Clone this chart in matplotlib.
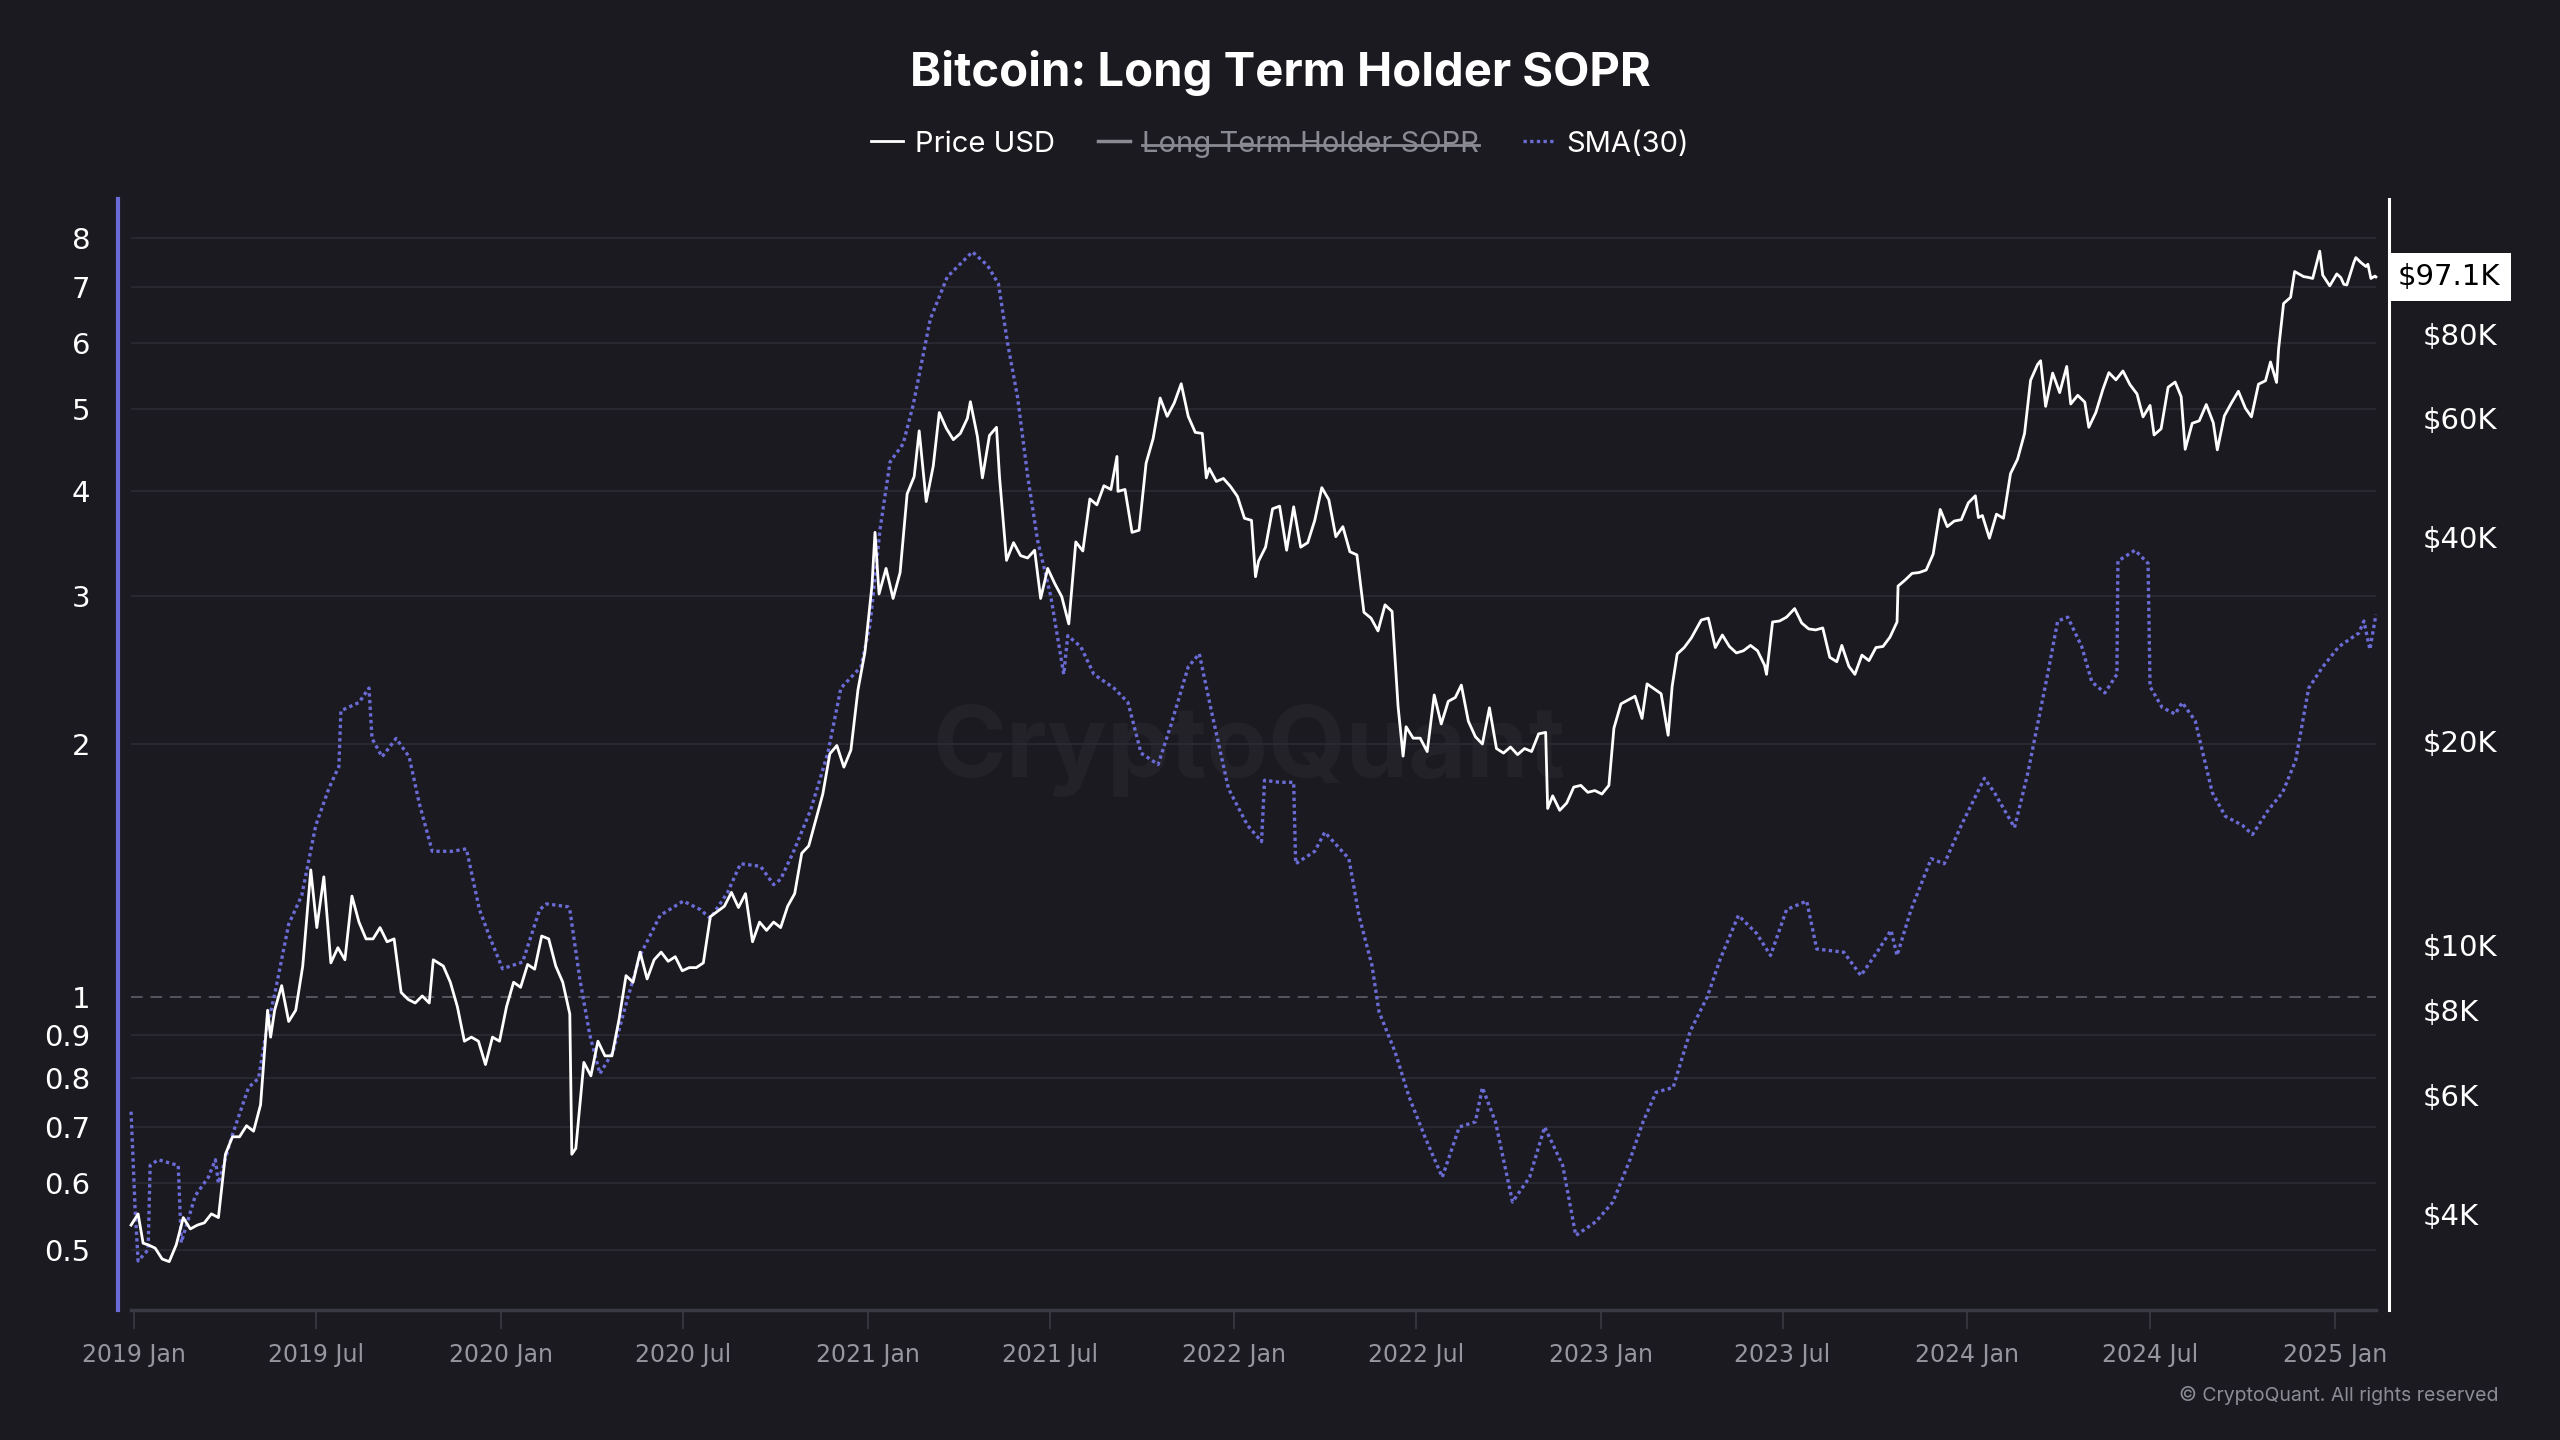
import pandas as pd
import matplotlib
matplotlib.use("Agg")
import matplotlib.pyplot as plt
import matplotlib.dates as mdates
from matplotlib.lines import Line2D
from matplotlib.transforms import IdentityTransform

#%% Data
# Bitcoin price (USD), roughly weekly
price_points = [
    ("2018-12-29", 3850), ("2019-01-05", 4000), ("2019-01-10", 3620), ("2019-01-15", 3600), ("2019-01-22", 3560),
    ("2019-01-29", 3430), ("2019-02-05", 3400), ("2019-02-12", 3600), ("2019-02-19", 3950), ("2019-02-26", 3800),
    ("2019-03-05", 3850), ("2019-03-12", 3880), ("2019-03-19", 4000), ("2019-03-26", 3950), ("2019-04-02", 4900),
    ("2019-04-09", 5200), ("2019-04-16", 5200), ("2019-04-23", 5400), ("2019-04-30", 5300), ("2019-05-07", 5800),
    ("2019-05-14", 8000), ("2019-05-17", 7300), ("2019-05-21", 8000), ("2019-05-28", 8700), ("2019-06-04", 7700),
    ("2019-06-11", 8000), ("2019-06-18", 9300), ("2019-06-26", 12900), ("2019-07-02", 10600), ("2019-07-09", 12600),
    ("2019-07-16", 9400), ("2019-07-23", 9900), ("2019-07-30", 9500), ("2019-08-06", 11800), ("2019-08-13", 10800),
    ("2019-08-20", 10200), ("2019-08-27", 10200), ("2019-09-03", 10600), ("2019-09-10", 10100), ("2019-09-17", 10200),
    ("2019-09-24", 8500), ("2019-10-01", 8300), ("2019-10-08", 8200), ("2019-10-15", 8400), ("2019-10-22", 8200),
    ("2019-10-26", 9500), ("2019-11-05", 9300), ("2019-11-12", 8800), ("2019-11-19", 8100), ("2019-11-26", 7200),
    ("2019-12-03", 7300), ("2019-12-10", 7200), ("2019-12-17", 6650), ("2019-12-24", 7300), ("2019-12-31", 7200),
    ("2020-01-07", 8100), ("2020-01-14", 8800), ("2020-01-21", 8650), ("2020-01-28", 9350), ("2020-02-04", 9200),
    ("2020-02-11", 10300), ("2020-02-18", 10200), ("2020-02-25", 9300), ("2020-03-03", 8800), ("2020-03-10", 7900),
    ("2020-03-12", 4900), ("2020-03-16", 5000), ("2020-03-24", 6700), ("2020-03-31", 6400), ("2020-04-07", 7200),
    ("2020-04-14", 6850), ("2020-04-21", 6850), ("2020-04-28", 7750), ("2020-05-05", 9000), ("2020-05-12", 8800),
    ("2020-05-19", 9750), ("2020-05-26", 8900), ("2020-06-02", 9500), ("2020-06-09", 9750), ("2020-06-16", 9450),
    ("2020-06-23", 9600), ("2020-06-30", 9150), ("2020-07-07", 9250), ("2020-07-14", 9250), ("2020-07-21", 9400),
    ("2020-07-28", 11000), ("2020-08-04", 11200), ("2020-08-11", 11400), ("2020-08-18", 11950), ("2020-08-25", 11350),
    ("2020-09-01", 11900), ("2020-09-08", 10100), ("2020-09-15", 10800), ("2020-09-22", 10500), ("2020-09-29", 10800),
    ("2020-10-06", 10600), ("2020-10-13", 11400), ("2020-10-20", 11900), ("2020-10-27", 13650), ("2020-11-03", 14000),
    ("2020-11-10", 15300), ("2020-11-17", 16700), ("2020-11-24", 19150), ("2020-12-01", 19700), ("2020-12-08", 18300),
    ("2020-12-15", 19400), ("2020-12-22", 23800), ("2020-12-29", 27100), ("2021-01-05", 34000), ("2021-01-08", 40700),
    ("2021-01-12", 33000), ("2021-01-19", 36000), ("2021-01-26", 32500), ("2021-02-02", 35500), ("2021-02-09", 46400),
    ("2021-02-16", 49200), ("2021-02-21", 57500), ("2021-02-28", 45200), ("2021-03-07", 51000), ("2021-03-13", 61200),
    ("2021-03-20", 58000), ("2021-03-27", 55800), ("2021-04-03", 57000), ("2021-04-10", 60000), ("2021-04-13", 63500),
    ("2021-04-20", 56400), ("2021-04-25", 49000), ("2021-05-02", 56600), ("2021-05-09", 58200), ("2021-05-12", 49200),
    ("2021-05-19", 37000), ("2021-05-26", 39300), ("2021-06-02", 37600), ("2021-06-09", 37300), ("2021-06-16", 38300),
    ("2021-06-22", 32500), ("2021-06-29", 36000), ("2021-07-06", 34200), ("2021-07-13", 32700), ("2021-07-20", 29800),
    ("2021-07-27", 39400), ("2021-08-03", 38200), ("2021-08-10", 45600), ("2021-08-17", 44700), ("2021-08-24", 47700),
    ("2021-08-31", 47100), ("2021-09-06", 52700), ("2021-09-07", 46800), ("2021-09-14", 47100), ("2021-09-21", 40700),
    ("2021-09-28", 41000), ("2021-10-05", 51500), ("2021-10-12", 56000), ("2021-10-19", 64300), ("2021-10-26", 60400),
    ("2021-11-02", 63200), ("2021-11-09", 67500), ("2021-11-16", 60400), ("2021-11-23", 57200), ("2021-11-30", 57000),
    ("2021-12-04", 49000), ("2021-12-07", 50600), ("2021-12-14", 48400), ("2021-12-21", 48900), ("2021-12-28", 47600),
    ("2022-01-04", 46000), ("2022-01-11", 42700), ("2022-01-18", 42400), ("2022-01-22", 35000), ("2022-01-25", 36900),
    ("2022-02-01", 38700), ("2022-02-08", 44100), ("2022-02-15", 44500), ("2022-02-22", 38300), ("2022-03-01", 44400),
    ("2022-03-08", 38700), ("2022-03-15", 39300), ("2022-03-22", 42400), ("2022-03-29", 47400), ("2022-04-05", 45500),
    ("2022-04-12", 40100), ("2022-04-19", 41500), ("2022-04-26", 38100), ("2022-05-03", 37700), ("2022-05-10", 31000),
    ("2022-05-17", 30400), ("2022-05-24", 29100), ("2022-05-31", 31800), ("2022-06-07", 31100), ("2022-06-13", 22500),
    ("2022-06-18", 19000), ("2022-06-21", 21000), ("2022-06-28", 20200), ("2022-07-05", 20200), ("2022-07-12", 19300),
    ("2022-07-19", 23400), ("2022-07-26", 21200), ("2022-08-02", 22900), ("2022-08-09", 23200), ("2022-08-15", 24200),
    ("2022-08-22", 21400), ("2022-08-29", 20300), ("2022-09-05", 19800), ("2022-09-12", 22400), ("2022-09-19", 19500),
    ("2022-09-26", 19200), ("2022-10-03", 19600), ("2022-10-10", 19100), ("2022-10-17", 19500), ("2022-10-24", 19300),
    ("2022-10-31", 20500), ("2022-11-07", 20600), ("2022-11-09", 15900), ("2022-11-14", 16600), ("2022-11-21", 15800),
    ("2022-11-28", 16200), ("2022-12-05", 17100), ("2022-12-12", 17200), ("2022-12-19", 16800), ("2022-12-26", 16900),
    ("2023-01-02", 16700), ("2023-01-09", 17200), ("2023-01-14", 20900), ("2023-01-21", 22700), ("2023-01-28", 23000),
    ("2023-02-04", 23300), ("2023-02-11", 21600), ("2023-02-16", 24300), ("2023-02-23", 23900), ("2023-03-02", 23500),
    ("2023-03-09", 20400), ("2023-03-13", 24100), ("2023-03-18", 26900), ("2023-03-25", 27500), ("2023-04-01", 28400),
    ("2023-04-11", 30200), ("2023-04-18", 30400), ("2023-04-25", 27500), ("2023-05-02", 28700), ("2023-05-09", 27600),
    ("2023-05-16", 27000), ("2023-05-23", 27200), ("2023-05-30", 27700), ("2023-06-06", 27200), ("2023-06-13", 25900),
    ("2023-06-15", 25100), ("2023-06-21", 30000), ("2023-06-28", 30100), ("2023-07-05", 30500), ("2023-07-13", 31400),
    ("2023-07-20", 29900), ("2023-07-27", 29300), ("2023-08-03", 29200), ("2023-08-10", 29400), ("2023-08-17", 26600),
    ("2023-08-24", 26200), ("2023-08-29", 27700), ("2023-09-05", 25800), ("2023-09-11", 25100), ("2023-09-18", 26800),
    ("2023-09-25", 26300), ("2023-10-02", 27500), ("2023-10-09", 27600), ("2023-10-16", 28500), ("2023-10-23", 30000),
    ("2023-10-24", 33900), ("2023-10-31", 34600), ("2023-11-07", 35400), ("2023-11-14", 35500), ("2023-11-21", 35800),
    ("2023-11-28", 37800), ("2023-12-05", 44000), ("2023-12-12", 41500), ("2023-12-19", 42300), ("2023-12-26", 42500),
    ("2024-01-02", 45000), ("2024-01-09", 46100), ("2024-01-12", 42800), ("2024-01-16", 43100), ("2024-01-23", 39900),
    ("2024-01-30", 43300), ("2024-02-06", 42700), ("2024-02-13", 49700), ("2024-02-20", 52200), ("2024-02-27", 57000),
    ("2024-03-04", 68300), ("2024-03-11", 72100), ("2024-03-14", 73000), ("2024-03-19", 62500), ("2024-03-26", 70000),
    ("2024-04-02", 65500), ("2024-04-09", 71600), ("2024-04-13", 63000), ("2024-04-20", 64900), ("2024-04-27", 63400),
    ("2024-05-01", 58200), ("2024-05-08", 61200), ("2024-05-15", 66200), ("2024-05-21", 70100), ("2024-05-28", 68400),
    ("2024-06-04", 70500), ("2024-06-11", 67300), ("2024-06-18", 65200), ("2024-06-24", 60300), ("2024-07-01", 62700),
    ("2024-07-05", 56700), ("2024-07-12", 57900), ("2024-07-19", 66700), ("2024-07-26", 67900), ("2024-08-01", 64600),
    ("2024-08-05", 54000), ("2024-08-12", 59000), ("2024-08-19", 59500), ("2024-08-26", 62900), ("2024-09-02", 59100),
    ("2024-09-06", 53900), ("2024-09-13", 60500), ("2024-09-20", 63200), ("2024-09-27", 65800), ("2024-10-04", 62100),
    ("2024-10-10", 60300), ("2024-10-17", 67400), ("2024-10-24", 68200), ("2024-10-29", 72700), ("2024-11-04", 67800),
    ("2024-11-06", 75900), ("2024-11-11", 88700), ("2024-11-18", 90600), ("2024-11-22", 98900), ("2024-12-01", 97200),
    ("2024-12-05", 97000), ("2024-12-10", 96600), ("2024-12-17", 106000), ("2024-12-20", 97700), ("2024-12-27", 94200),
    ("2025-01-03", 98100), ("2025-01-07", 96900), ("2025-01-10", 94700), ("2025-01-13", 94500), ("2025-01-20", 102000),
    ("2025-01-22", 103700), ("2025-01-27", 102000), ("2025-02-01", 100600), ("2025-02-03", 101400), ("2025-02-06", 96600),
    ("2025-02-10", 97400), ("2025-02-11", 97100),
]

# Long Term Holder SOPR, 30-day SMA
sma_points = [
    ("2018-12-29", 0.73), ("2019-01-02", 0.56), ("2019-01-05", 0.485), ("2019-01-15", 0.50), ("2019-01-17", 0.63),
    ("2019-01-25", 0.64), ("2019-02-14", 0.63), ("2019-02-17", 0.51), ("2019-03-03", 0.58), ("2019-03-16", 0.61),
    ("2019-03-23", 0.64), ("2019-03-26", 0.60), ("2019-04-08", 0.68), ("2019-04-25", 0.78), ("2019-05-05", 0.80),
    ("2019-05-12", 0.90), ("2019-05-22", 1.02), ("2019-06-04", 1.22), ("2019-06-17", 1.32), ("2019-07-01", 1.60),
    ("2019-07-14", 1.77), ("2019-07-24", 1.88), ("2019-07-26", 2.19), ("2019-08-13", 2.24), ("2019-08-23", 2.33),
    ("2019-08-26", 2.03), ("2019-09-05", 1.93), ("2019-09-19", 2.03), ("2019-10-02", 1.93), ("2019-10-12", 1.70),
    ("2019-10-25", 1.49), ("2019-11-14", 1.49), ("2019-11-28", 1.50), ("2019-12-11", 1.27), ("2019-12-21", 1.18),
    ("2020-01-03", 1.08), ("2020-01-23", 1.10), ("2020-02-09", 1.27), ("2020-02-16", 1.29), ("2020-03-08", 1.28),
    ("2020-03-10", 1.27), ("2020-03-20", 1.05), ("2020-03-30", 0.90), ("2020-04-09", 0.81), ("2020-04-22", 0.86),
    ("2020-05-06", 0.99), ("2020-05-19", 1.12), ("2020-06-08", 1.25), ("2020-07-01", 1.30), ("2020-07-18", 1.27),
    ("2020-07-28", 1.24), ("2020-08-14", 1.33), ("2020-08-27", 1.44), ("2020-09-16", 1.43), ("2020-09-29", 1.36),
    ("2020-10-06", 1.38), ("2020-10-19", 1.49), ("2020-11-05", 1.67), ("2020-11-22", 1.95), ("2020-12-05", 2.33),
    ("2020-12-25", 2.47), ("2021-01-03", 2.77), ("2021-01-13", 3.60), ("2021-01-23", 4.33), ("2021-02-05", 4.55),
    ("2021-02-15", 5.06), ("2021-03-04", 6.40), ("2021-03-21", 7.19), ("2021-04-15", 7.70), ("2021-04-30", 7.42),
    ("2021-05-11", 7.05), ("2021-05-20", 6.00), ("2021-05-30", 5.17), ("2021-06-09", 4.17), ("2021-06-19", 3.49),
    ("2021-07-02", 3.00), ("2021-07-15", 2.42), ("2021-07-19", 2.69), ("2021-08-01", 2.61), ("2021-08-14", 2.42),
    ("2021-09-03", 2.33), ("2021-09-17", 2.24), ("2021-09-30", 1.95), ("2021-10-17", 1.89), ("2021-10-30", 2.11),
    ("2021-11-16", 2.47), ("2021-11-27", 2.56), ("2021-12-09", 2.19), ("2021-12-26", 1.77), ("2022-01-14", 1.60),
    ("2022-01-28", 1.53), ("2022-01-31", 1.81), ("2022-02-15", 1.80), ("2022-03-01", 1.80), ("2022-03-03", 1.44),
    ("2022-03-22", 1.49), ("2022-04-01", 1.57), ("2022-04-25", 1.46), ("2022-05-05", 1.25), ("2022-05-18", 1.09),
    ("2022-05-25", 0.96), ("2022-06-10", 0.86), ("2022-06-24", 0.76), ("2022-07-10", 0.68), ("2022-07-27", 0.61),
    ("2022-08-13", 0.70), ("2022-08-29", 0.71), ("2022-09-05", 0.78), ("2022-09-18", 0.71), ("2022-10-05", 0.57),
    ("2022-10-22", 0.61), ("2022-11-06", 0.70), ("2022-11-24", 0.63), ("2022-12-07", 0.52), ("2022-12-27", 0.54),
    ("2023-01-13", 0.57), ("2023-01-30", 0.64), ("2023-02-12", 0.71), ("2023-02-25", 0.77), ("2023-03-14", 0.78),
    ("2023-03-31", 0.91), ("2023-04-17", 1.00), ("2023-04-30", 1.11), ("2023-05-18", 1.25), ("2023-06-05", 1.19),
    ("2023-06-19", 1.12), ("2023-07-05", 1.27), ("2023-07-25", 1.30), ("2023-08-04", 1.14), ("2023-08-31", 1.13),
    ("2023-09-17", 1.06), ("2023-10-03", 1.13), ("2023-10-17", 1.20), ("2023-10-23", 1.12), ("2023-11-06", 1.27),
    ("2023-11-26", 1.46), ("2023-12-09", 1.44), ("2023-12-26", 1.60), ("2024-01-18", 1.82), ("2024-01-28", 1.75),
    ("2024-02-17", 1.59), ("2024-03-01", 1.84), ("2024-03-21", 2.42), ("2024-03-31", 2.80), ("2024-04-10", 2.83),
    ("2024-04-24", 2.61), ("2024-05-04", 2.37), ("2024-05-17", 2.30), ("2024-05-29", 2.42), ("2024-05-30", 3.30),
    ("2024-06-16", 3.40), ("2024-06-29", 3.28), ("2024-07-01", 2.34), ("2024-07-13", 2.21), ("2024-07-26", 2.17),
    ("2024-08-02", 2.24), ("2024-08-15", 2.13), ("2024-09-01", 1.75), ("2024-09-14", 1.64), ("2024-10-01", 1.60),
    ("2024-10-11", 1.56), ("2024-10-27", 1.67), ("2024-11-10", 1.75), ("2024-11-23", 1.91), ("2024-12-06", 2.33),
    ("2024-12-20", 2.47), ("2025-01-05", 2.61), ("2025-01-25", 2.71), ("2025-01-30", 2.80), ("2025-02-05", 2.59),
    ("2025-02-11", 2.85),
]

sopr_ticks = [0.5, 0.6, 0.7, 0.8, 0.9, 1, 2, 3, 4, 5, 6, 7, 8]
price_ticks = [4000, 6000, 8000, 10000, 20000, 40000, 60000, 80000]
price_tick_labels = ["$4K", "$6K", "$8K", "$10K", "$20K", "$40K", "$60K", "$80K"]
x_tick_dates = pd.date_range("2019-01-01", "2025-01-01", freq="6MS")

#%% Prep
price = pd.Series([v for d, v in price_points], index=pd.to_datetime([d for d, v in price_points]))
sma = pd.Series([v for d, v in sma_points], index=pd.to_datetime([d for d, v in sma_points]))
start, end = price.index[0], price.index[-1]

BG = "#1a1a20"
BLUE = "#6b6bd6"
GRID = "#2a2a32"

#%% Plotting
fig = plt.figure(figsize=(25.6, 14.4), dpi=100, facecolor=BG)
ax = fig.add_axes([0.0461, 0.0903, 0.8871, 0.7715], facecolor=BG)
ax2 = ax.twinx()

ax.set_yscale("log")
ax.set_ylim(0.424, 8.9)
ax2.set_yscale("log")
ax2.set_ylim(2884, 126600)
ax.set_xlim(pd.Timestamp("2018-12-16"), pd.Timestamp("2025-02-24"))

# watermark, under the lines
ax.text(0.498, 0.504, "CryptoQuant", transform=ax.transAxes, ha="center", va="center",
        fontsize=72, color="#222228", fontweight="bold", family="Inter", zorder=0)

# grid lines only across the data range
grid_y = [t for t in sopr_ticks if t != 1]
ax.hlines(grid_y, start, end, color=GRID, lw=1.3, zorder=0.5)
ax.hlines([1], start, end, color="#55555e", lw=1.4, linestyles=(0, (6, 4)), zorder=0.5)

ax.plot(sma.index, sma.values, color=BLUE, lw=2.4, ls=(0, (1, 1)), zorder=2)
ax2.plot(price.index, price.values, color="white", lw=2.0, zorder=3)

# left axis
ax.set_yticks(sopr_ticks)
ax.set_yticklabels([("%g" % t) for t in sopr_ticks])
ax.yaxis.set_minor_locator(plt.NullLocator())
ax.tick_params(axis="y", length=0, pad=20, labelsize=21, labelcolor="white")

# right axis
ax2.set_yticks(price_ticks)
ax2.set_yticklabels(price_tick_labels)
ax2.yaxis.set_minor_locator(plt.NullLocator())
ax2.tick_params(axis="y", length=0, pad=24, labelsize=21, labelcolor="white")

# x axis
ax.set_xticks(x_tick_dates)
ax.set_xticklabels([d.strftime("%Y %b") for d in x_tick_dates])
ax.tick_params(axis="x", length=14, width=1.2, color="#3a3a44", pad=10,
               labelsize=17, labelcolor="#96969e")

for s in ["top", "right"]:
    ax.spines[s].set_visible(False)
for s in ["top", "left", "bottom"]:
    ax2.spines[s].set_visible(False)
ax.spines["left"].set_color(BLUE)
ax.spines["left"].set_linewidth(3.0)
ax.spines["bottom"].set_color("#3a3a44")
ax.spines["bottom"].set_linewidth(2.5)
ax.spines["bottom"].set_bounds(mdates.date2num(start), mdates.date2num(end))
ax2.spines["right"].set_color("white")
ax2.spines["right"].set_linewidth(2.2)

# last price tag
ax2.text(1.004, price.values[-1], "$%.1fK" % (price.values[-1] / 1000),
         transform=ax2.get_yaxis_transform(), ha="left", va="center",
         fontsize=21, color="black",
         bbox=dict(boxstyle="square,pad=0.35", fc="white", ec="none"))

# texts
fig.text(0.5, 0.949, "Bitcoin: Long Term Holder SOPR", ha="center", va="center",
         fontsize=34, fontweight="bold", color="white", family="Inter")
fig.text(0.976, 0.031, "\u00a9 CryptoQuant. All rights reserved", ha="right", va="center",
         fontsize=14, color="#8c8c94", family="Inter")

handles = [Line2D([], [], color="white", lw=2),
           Line2D([], [], color="#8a8a92", lw=2.5),
           Line2D([], [], color=BLUE, lw=2.4, ls=(0, (1, 1)))]
labels = ["Price USD", "Long Term Holder SOPR", "SMA(30)"]
leg = fig.legend(handles, labels, loc="center", bbox_to_anchor=(0.5, 0.9), ncol=3,
                 frameon=False, handlelength=1.1, handletextpad=0.4, columnspacing=1.5,
                 prop={"family": "Inter", "size": 21})
for t, c in zip(leg.get_texts(), ["white", "#8a8a92", "white"]):
    t.set_color(c)

# strike through the hidden series label
fig.canvas.draw()
bb = leg.get_texts()[1].get_window_extent(fig.canvas.get_renderer())
ymid = (bb.y0 + bb.y1) / 2 - 1
fig.add_artist(Line2D([bb.x0, bb.x1], [ymid, ymid], color="#8a8a92", lw=2,
                      transform=IdentityTransform()))

fig.savefig("out.png", dpi=100, facecolor=BG)
